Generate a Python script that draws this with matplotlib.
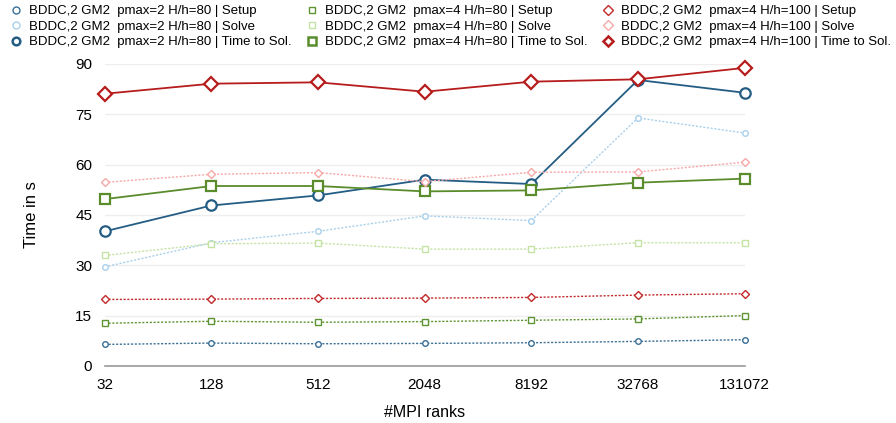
import matplotlib.pyplot as plt
from matplotlib.lines import Line2D
import numpy as np

plt.rcParams['font.family'] = ['Liberation Sans', 'DejaVu Sans']

ranks = ["32", "128", "512", "2048", "8192", "32768", "131072"]

# pmax=2 H/h=80
p2_setup = [6.4, 6.8, 6.6, 6.7, 6.9, 7.3, 7.8]
p2_solve = [29.5, 36.7, 40.1, 44.7, 43.3, 73.9, 69.4]
p2_tts = [40.1, 47.8, 50.8, 55.5, 54.2, 85.2, 81.4]

# pmax=4 H/h=80
p4_setup = [12.7, 13.3, 13.0, 13.2, 13.6, 14.0, 15.0]
p4_solve = [32.9, 36.4, 36.6, 34.8, 34.8, 36.7, 36.7]
p4_tts = [49.7, 53.6, 53.6, 52.0, 52.3, 54.6, 55.8]

# pmax=4 H/h=100
p4h_setup = [19.8, 19.9, 20.1, 20.2, 20.4, 21.1, 21.5]
p4h_solve = [54.7, 57.1, 57.6, 54.9, 57.7, 57.8, 60.7]
p4h_tts = [81.1, 84.1, 84.5, 81.7, 84.7, 85.4, 88.8]

groups = [
    ("BDDC,2 GM2  pmax=2 H/h=80", "o", ["#3a6f96", "#a9d0ea", "#245d84"],
     [p2_setup, p2_solve, p2_tts]),
    ("BDDC,2 GM2  pmax=4 H/h=80", "s", ["#5e9433", "#c4e3a4", "#5a8c2c"],
     [p4_setup, p4_solve, p4_tts]),
    ("BDDC,2 GM2  pmax=4 H/h=100", "D", ["#c22a2a", "#f7a8a8", "#b71c1c"],
     [p4h_setup, p4h_solve, p4h_tts]),
]
kinds = ["Setup", "Solve", "Time to Sol."]

fig = plt.figure(figsize=(8.96, 4.23), dpi=100)
ax = fig.add_axes([0.117, 0.135, 0.714, 0.714])
x = np.arange(len(ranks))

handles = []
for name, marker, colors, series in groups:
    for kind, col, vals in zip(kinds, colors, series):
        if kind == "Time to Sol.":
            ms = 7.5 if marker != "D" else 6.8
            ax.plot(x, vals, color=col, marker=marker, ms=ms, mew=1.6,
                    mfc="white", lw=1.3, ls="-", clip_on=False, zorder=3)
            lms, lmew = 5.5 if marker != "D" else 5, 1.8
        else:
            ms = 4 if marker != "D" else 3.6
            ax.plot(x, vals, color=col, marker=marker, ms=ms, mew=1.0,
                    mfc="white", lw=1.0, ls=(0, (1.5, 1.2)), clip_on=False,
                    zorder=3)
            lms, lmew = 5 if marker != "D" else 4.6, 1.0
        handles.append(Line2D([], [], ls="none", marker=marker, ms=lms,
                              mew=lmew, mfc="white", color=col,
                              label=f"{name} | {kind}"))

ax.set_xlim(0, 6)
ax.set_ylim(0, 90)
ax.set_xticks(x)
ax.set_xticklabels(ranks)
ax.set_yticks(np.arange(0, 91, 15))
ax.tick_params(length=0, labelsize=11, pad=9)
ax.yaxis.grid(True, color="#eeeeee", lw=1)
ax.set_axisbelow(True)
for s in ["top", "right", "left"]:
    ax.spines[s].set_visible(False)
ax.spines["bottom"].set_color("#999999")
ax.spines["bottom"].set_linewidth(1.2)
ax.set_xlabel("#MPI ranks", fontsize=11.5, labelpad=9)
ax.set_ylabel("Time in s", fontsize=12, labelpad=26)

fig.legend(handles=handles, loc="upper left", bbox_to_anchor=(0.0, 1.01),
           ncol=3, frameon=False, fontsize=9.5, labelspacing=0.25,
           columnspacing=1.05, handlelength=1.0, handletextpad=0.5,
           borderaxespad=0.3)

fig.savefig("out.png", dpi=100)
